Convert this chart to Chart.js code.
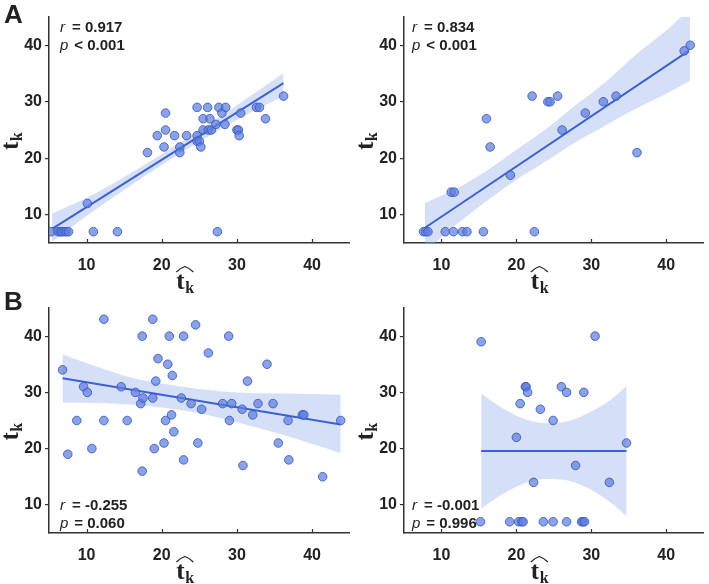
<!DOCTYPE html>
<html lang="en">
<head>
<meta charset="utf-8">
<title>t_k vs estimated t_k</title>
<script src="https://cdn.jsdelivr.net/npm/chart.js@4.4.0/dist/chart.umd.min.js"></script>
<style>
    body { margin: 0; background: #fff; }
    #wrap { position: relative; width: 709px; height: 584px; overflow: hidden; }
    #wrap canvas { position: absolute; }
</style>
</head>
<body>
<div id="wrap">
    <canvas id="chartA1" width="355" height="300" style="left:0;top:0"></canvas>
    <canvas id="chartA2" width="354" height="300" style="left:355px;top:0"></canvas>
    <canvas id="chartB1" width="355" height="292" style="left:0;top:292px"></canvas>
    <canvas id="chartB2" width="354" height="292" style="left:355px;top:292px"></canvas>
</div>

<script type="text/javascript">

    // shared axis ticks
    const tickValues = [10, 20, 30, 40];

    // panel A, left
    const a1X = [5.3, 6.2, 6.5, 6.7, 7.0, 7.3, 7.6, 10.1, 10.9, 14.1, 18.1, 19.4, 20.3, 20.5, 20.5, 21.7, 22.4, 22.4,
        23.3, 24.7, 24.7, 24.7, 25.0, 25.2, 25.5, 25.5, 26.1, 26.2, 26.4, 26.6, 27.2, 27.4, 27.6, 28.0, 28.4, 28.5,
        30.0, 30.2, 30.3, 30.5, 32.6, 33.0, 33.8, 36.2];
    const a1Y = [7, 7, 7, 7, 7, 7, 7, 12, 7, 7, 21, 24, 22, 25, 28, 24, 22, 21,
        24, 24, 29, 23, 23, 22, 27, 25, 29, 25, 27, 25, 26, 7, 29, 28, 26, 29,
        25, 25, 24, 28, 29, 29, 27, 31];
    const a1FitX = [5.4, 36.2];
    const a1FitY = [7.5, 33.3];
    const a1BandX = [5.4, 10, 15, 20, 25, 30, 36.2];
    const a1BandUpper = [10.2, 13.0, 16.7, 20.7, 24.9, 29.4, 35.1];
    const a1BandLower = [5.2, 9.8, 14.4, 18.8, 22.9, 26.8, 31.0];

    // panel A, right
    const a2X = [7.6, 7.9, 8.2, 10.5, 11.3, 11.7, 11.6, 12.8, 13.4, 15.6, 16.0, 16.5, 19.2, 22.1, 22.4, 24.2, 24.5,
        25.5, 26.1, 29.2, 31.6, 33.3, 36.1, 42.4, 43.2];
    const a2Y = [7, 7, 7, 7, 14, 14, 7, 7, 7, 7, 27, 22, 17, 31, 7, 30, 30,
        31, 25, 28, 30, 31, 21, 39, 40];
    const a2FitX = [7.8, 43.0];
    const a2FitY = [7.7, 39.0];
    const a2BandX = [7.8, 12, 16, 20, 24, 28, 32, 36, 40, 43.2];
    const a2BandUpper = [12.1, 14.6, 17.8, 21.5, 25.2, 29.5, 33.6, 38.4, 42.6, 46.5];
    const a2BandLower = [3.5, 8.3, 12.4, 16.2, 19.5, 22.9, 25.9, 28.8, 31.4, 33.7];

    // panel B, left
    const b1X = [6.8, 7.5, 8.7, 9.6, 10.1, 10.7, 12.3, 12.3, 14.6, 15.4, 16.5, 17.2, 17.4, 17.4, 17.5, 18.8, 18.8,
        19.0, 19.2, 19.5, 20.3, 20.5, 20.8, 21.0, 21.3, 21.4, 21.6, 22.6, 22.9, 22.9, 23.9, 24.5, 24.8, 25.3, 26.2,
        28.1, 28.9, 29.0, 29.3, 30.7, 30.8, 31.4, 32.1, 32.8, 34.0, 34.8, 35.5, 36.8, 36.9, 38.7, 38.9, 41.4, 43.8];
    const b1Y = [34, 19, 25, 31, 30, 20, 43, 25, 31, 25, 30, 28, 40, 16, 29, 43, 29,
        20, 32, 36, 21, 25, 35, 40, 26, 33, 23, 29, 40, 18, 28, 42, 21, 27, 37,
        28, 40, 25, 28, 27, 17, 32, 26, 28, 35, 28, 21, 25, 18, 26, 26, 15, 25];
    const b1FitX = [6.8, 43.8];
    const b1FitY = [32.5, 24.3];
    const b1BandX = [6.8, 12, 16, 20, 25, 30, 36, 43.8];
    const b1BandUpper = [36.8, 34.3, 32.6, 31.6, 30.6, 30.0, 29.8, 29.6];
    const b1BandLower = [28.2, 28.1, 27.8, 27.3, 26.3, 24.7, 22.5, 19.2];

    // panel B, right
    const b2X = [15.3, 15.2, 19.1, 20.3, 20.7, 20.9, 20.0, 20.5, 21.2, 21.3, 21.5, 22.3, 23.2, 23.6, 24.9, 24.9,
        26.0, 26.7, 26.7, 27.9, 28.7, 28.9, 29.1, 29.0, 30.5, 32.4, 34.7];
    const b2Y = [39, 7, 7, 7, 7, 7, 22, 28, 31, 31, 30, 14, 27, 7, 25, 7,
        31, 30, 7, 17, 7, 7, 7, 30, 40, 14, 21];
    const b2FitX = [15.3, 34.7];
    const b2FitY = [19.6, 19.6];
    const b2BandX = [15.3, 18, 21, 24, 27, 30, 32.5, 34.7];
    const b2BandUpper = [29.8, 27.3, 25.3, 24.5, 24.9, 26.6, 28.6, 31.1];
    const b2BandLower = [9.3, 11.8, 13.8, 14.6, 14.3, 12.7, 10.5, 8.0];

    const pointFill = "rgba(96, 126, 222, 0.72)";
    const pointBorder = "rgba(58, 88, 192, 0.85)";
    const lineColor = "#3b62d3";
    const bandColor = "rgba(158, 178, 238, 0.42)";
    const inkColor = "#222222";

    function toPoints(xs, ys) {
        return xs.map((x, i) => ({x: x, y: ys[i]}));
    }

    function drawTk(ctx, x, y, hat) {
        ctx.font = 'bold 25px "Liberation Serif", "DejaVu Serif", serif';
        ctx.textBaseline = "alphabetic";
        ctx.textAlign = "left";
        ctx.fillText("t", x, y);
        const tw = ctx.measureText("t").width;
        ctx.font = 'bold 16px "Liberation Serif", "DejaVu Serif", serif';
        ctx.fillText("k", x + tw + 0.5, y + 4);
        if (hat) {
            ctx.beginPath();
            ctx.moveTo(x, y - 17);
            ctx.quadraticCurveTo(x + 4, y - 21, x + 8.5, y - 22.5);
            ctx.quadraticCurveTo(x + 13, y - 21, x + 17, y - 17);
            ctx.lineWidth = 1.2;
            ctx.strokeStyle = inkColor;
            ctx.stroke();
        }
    }

    const decorPlugin = {
        id: "decor",
        afterDraw(chart, args, opts) {
            const ctx = chart.ctx;
            const area = chart.chartArea;
            const xScale = chart.scales.x;
            ctx.save();
            ctx.fillStyle = inkColor;
            ctx.strokeStyle = "#333333";

            // inward x ticks
            ctx.lineWidth = 1.2;
            tickValues.forEach(v => {
                const px = Math.round(xScale.getPixelForValue(v)) + 0.5;
                ctx.beginPath();
                ctx.moveTo(px, area.bottom);
                ctx.lineTo(px, area.bottom - 4);
                ctx.stroke();
            });

            // panel letter
            if (opts.letter) {
                ctx.font = 'bold 26px "Liberation Sans", Arial, sans-serif';
                ctx.textAlign = "left";
                ctx.textBaseline = "alphabetic";
                ctx.fillText(opts.letter, 4, opts.letterY);
            }

            // r / p annotation
            const lineYs = opts.statsTop
                ? [area.top + 15, area.top + 33]
                : [area.bottom - 23, area.bottom - 5];
            opts.stats.forEach((s, i) => {
                const sx = area.left + opts.statsDx;
                ctx.textAlign = "left";
                ctx.textBaseline = "alphabetic";
                ctx.font = 'italic 15px "Liberation Sans", Arial, sans-serif';
                ctx.fillText(s[0], sx, lineYs[i]);
                const lw = ctx.measureText(s[0]).width;
                ctx.font = 'bold 15px "Liberation Sans", Arial, sans-serif';
                ctx.fillText(s[1], sx + lw + (s[0] === "r" ? 7 : 6), lineYs[i]);
            });

            // x axis title
            drawTk(ctx, (area.left + area.right) / 2 - 23, area.bottom + 46, true);

            // y axis title
            ctx.save();
            ctx.translate(area.left - 31, (area.top + area.bottom) / 2 + 20);
            ctx.rotate(-Math.PI / 2);
            drawTk(ctx, 0, 0, false);
            ctx.restore();

            ctx.restore();
        }
    };

    function makePanel(canvasId, xs, ys, fitX, fitY, bandX, bandUp, bandLow, pad, xAxisHeight, decor) {
        new Chart(canvasId, {
            type: "scatter",
            data: {
                datasets: [
                    {
                        label: "points",
                        data: toPoints(xs, ys),
                        pointRadius: 4.3,
                        pointBackgroundColor: pointFill,
                        pointBorderColor: pointBorder,
                        pointBorderWidth: 1
                    },
                    {
                        label: "fit",
                        data: toPoints(fitX, fitY),
                        showLine: true,
                        borderColor: lineColor,
                        borderWidth: 2,
                        pointRadius: 0
                    },
                    {
                        label: "upper",
                        data: toPoints(bandX, bandUp),
                        showLine: true,
                        cubicInterpolationMode: "monotone",
                        borderWidth: 0,
                        borderColor: "rgba(0,0,0,0)",
                        pointRadius: 0,
                        backgroundColor: bandColor,
                        fill: "+1"
                    },
                    {
                        label: "lower",
                        data: toPoints(bandX, bandLow),
                        showLine: true,
                        cubicInterpolationMode: "monotone",
                        borderWidth: 0,
                        borderColor: "rgba(0,0,0,0)",
                        pointRadius: 0,
                        fill: false
                    }
                ]
            },
            options: {
                responsive: false,
                animation: false,
                layout: {padding: pad},
                plugins: {
                    legend: {display: false},
                    tooltip: {enabled: false},
                    decor: decor
                },
                scales: {
                    x: {
                        type: "linear",
                        min: 5,
                        max: 45,
                        afterBuildTicks: axis => { axis.ticks = tickValues.map(v => ({value: v})); },
                        afterFit: axis => { axis.height = xAxisHeight; },
                        grid: {display: false},
                        border: {display: true, color: "#333333", width: 1.5},
                        ticks: {
                            padding: 5,
                            color: inkColor,
                            font: {family: '"Liberation Sans", Arial, sans-serif', size: 16, weight: "bold"}
                        }
                    },
                    y: {
                        type: "linear",
                        min: 5,
                        max: 45,
                        afterBuildTicks: axis => { axis.ticks = tickValues.map(v => ({value: v})); },
                        afterFit: axis => { axis.width = 49; },
                        grid: {display: true, drawOnChartArea: false, drawTicks: true, tickLength: 4, color: "#333333", lineWidth: 1.2},
                        border: {display: true, color: "#333333", width: 1.5},
                        ticks: {
                            padding: 3,
                            color: inkColor,
                            font: {family: '"Liberation Sans", Arial, sans-serif', size: 16, weight: "bold"}
                        }
                    }
                }
            },
            plugins: [decorPlugin]
        });
    }

    makePanel("chartA1", a1X, a1Y, a1FitX, a1FitY, a1BandX, a1BandUpper, a1BandLower,
        {top: 17, right: 4, left: 0, bottom: 0}, 57,
        {letter: "A", letterY: 23, statsTop: true, statsDx: 11, stats: [["r", "= 0.917"], ["p", "< 0.001"]]});

    makePanel("chartA2", a2X, a2Y, a2FitX, a2FitY, a2BandX, a2BandUpper, a2BandLower,
        {top: 17, right: 2, left: 0, bottom: 0}, 57,
        {letter: null, statsTop: true, statsDx: 8, stats: [["r", "= 0.834"], ["p", "< 0.001"]]});

    makePanel("chartB1", b1X, b1Y, b1FitX, b1FitY, b1BandX, b1BandUpper, b1BandLower,
        {top: 16, right: 4, left: 0, bottom: 0}, 51,
        {letter: "B", letterY: 18, statsTop: false, statsDx: 11, stats: [["r", "= -0.255"], ["p", "= 0.060"]]});

    makePanel("chartB2", b2X, b2Y, b2FitX, b2FitY, b2BandX, b2BandUpper, b2BandLower,
        {top: 16, right: 2, left: 0, bottom: 0}, 51,
        {letter: null, statsTop: false, statsDx: 8, stats: [["r", "= -0.001"], ["p", "= 0.996"]]});

</script>
</body>
</html>
